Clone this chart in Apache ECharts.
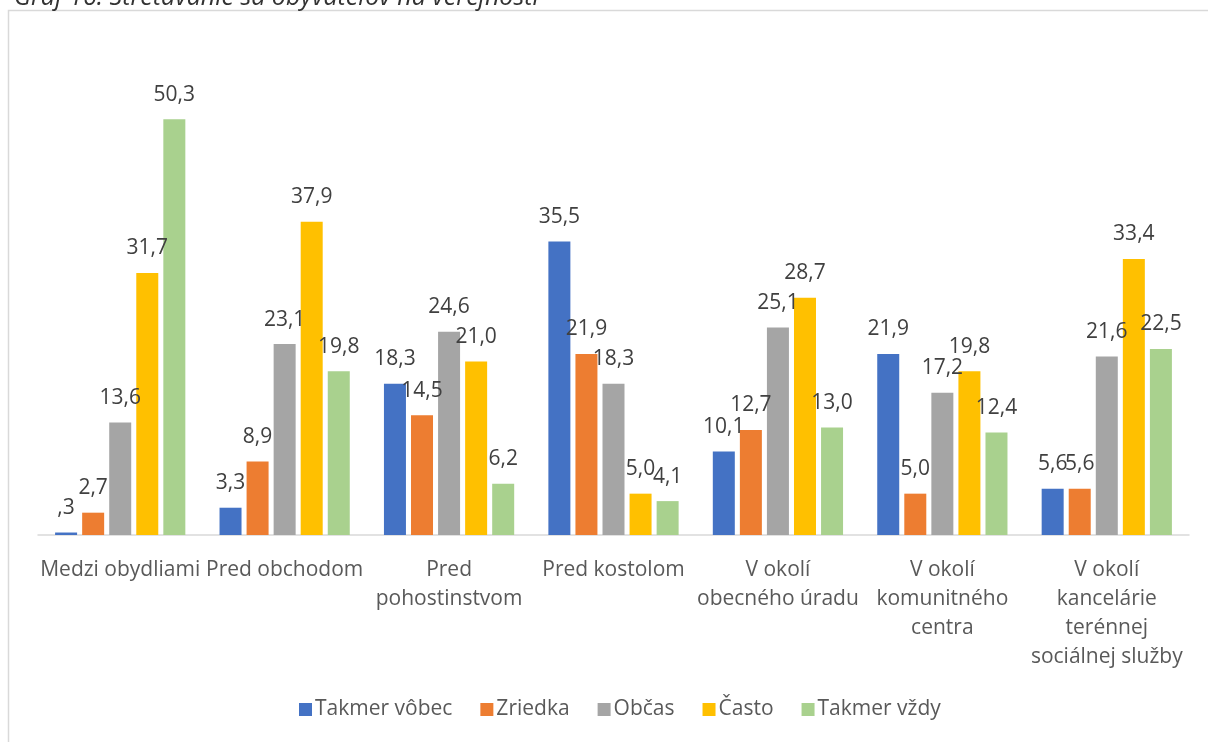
<!DOCTYPE html>
<html>
<head>
<meta charset="utf-8">
<script src="https://cdn.jsdelivr.net/npm/echarts@6/dist/echarts.min.js"></script>
<style>
  html, body { margin: 0; padding: 0; background: #fff; }
  #chart { width: 1208px; height: 742px; }
</style>
</head>
<body>
<div id="chart"></div>
<script>
// Where residents meet in public – share of answers (%)
const categories = [
  'Medzi obydliami',
  'Pred obchodom',
  'Pred\npohostinstvom',
  'Pred kostolom',
  'V okolí\nobecného úradu',
  'V okolí\nkomunitného\ncentra',
  'V okolí\nkancelárie\nterénnej\nsociálnej služby'
];
const seriesNames = ['Takmer vôbec', 'Zriedka', 'Občas', 'Často', 'Takmer vždy'];
const takmerVobec = [0.3, 3.3, 18.3, 35.5, 10.1, 21.9, 5.6];
const zriedka     = [2.7, 8.9, 14.5, 21.9, 12.7, 5.0, 5.6];
const obcas       = [13.6, 23.1, 24.6, 18.3, 25.1, 17.2, 21.6];
const casto       = [31.7, 37.9, 21.0, 5.0, 28.7, 19.8, 33.4];
const takmerVzdy  = [50.3, 19.8, 6.2, 4.1, 13.0, 12.4, 22.5];
const colors = ['#4472C4', '#ED7D31', '#A5A5A5', '#FFC000', '#A9D18E'];

const FONT = '"Open Sans", "Liberation Sans", sans-serif';

// Decimal comma, no leading zero (",3")
function fmt(v) {
  let s = v.toFixed(1).replace('.', ',');
  if (s.startsWith('0,')) s = s.slice(1);
  return s;
}

const values = [takmerVobec, zriedka, obcas, casto, takmerVzdy];

const chart = echarts.init(document.getElementById('chart'), null, { renderer: 'canvas' });
chart.setOption({
  animation: false,
  color: colors,
  graphic: [
    {
      type: 'rect',
      silent: true,
      shape: { x: 8.5, y: 10.5, width: 1300, height: 900 },
      style: { fill: 'none', stroke: '#D9D9D9', lineWidth: 1.5 }
    },
    {
      // caption sits above the frame, partly outside the page
      type: 'text',
      silent: true,
      x: 14,
      y: -2,
      style: {
        text: 'Graf 16: Stretávanie sa obyvateľov na verejnosti',
        font: 'italic 25px ' + FONT,
        fill: '#333333',
        verticalAlign: 'middle'
      }
    }
  ],
  grid: { left: 38, right: 19, top: 39, height: 496, containLabel: false },
  legend: {
    top: 694,
    left: 294,
    itemWidth: 13,
    itemHeight: 13,
    itemGap: 28,
    icon: 'rect',
    textStyle: { fontFamily: FONT, fontSize: 21, color: '#595959', padding: [0, 0, 0, -2] },
    data: seriesNames
  },
  xAxis: {
    type: 'category',
    data: categories,
    axisLine: { lineStyle: { color: '#D9D9D9', width: 1.5 } },
    axisTick: { show: false },
    axisLabel: {
      interval: 0,
      fontFamily: FONT,
      fontSize: 21,
      color: '#595959',
      lineHeight: 29,
      margin: 21
    }
  },
  yAxis: {
    type: 'value',
    min: 0,
    max: 60,
    show: false,
    splitLine: { show: false }
  },
  series: seriesNames.map((name, i) => ({
    name,
    type: 'bar',
    data: values[i],
    barWidth: 22,
    barGap: '23%',
    label: {
      show: true,
      position: 'top',
      distance: 14,
      fontFamily: FONT,
      fontSize: 21,
      color: '#404040',
      formatter: p => fmt(p.value)
    }
  }))
});
</script>
</body>
</html>
